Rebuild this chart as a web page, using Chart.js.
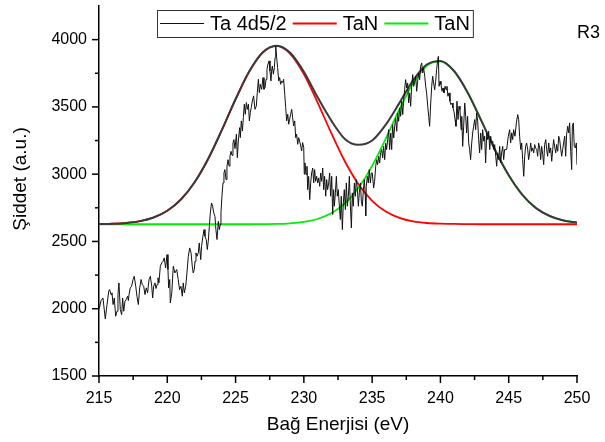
<!DOCTYPE html>
<html>
<head>
<meta charset="utf-8">
<title>Ta 4d5/2 - R3</title>
<script src="https://cdn.jsdelivr.net/npm/chart.js@4.4.1/dist/chart.umd.min.js"></script>
<style>
  html, body { margin: 0; padding: 0; background: #fff; }
</style>
</head>
<body>
<canvas id="xps" width="605" height="442"></canvas>
<script>
// measured spectrum (binding energy in eV, intensity in a.u.)
const energy = [
  215.02,215.15,215.29,215.46,215.59,215.71,215.78,215.88,215.95,216.03,216.12,216.22,216.32,216.39,216.46,216.56,216.66,216.73,216.81,216.90,
  216.99,217.10,217.15,217.20,217.29,217.39,217.49,217.58,217.69,217.78,217.88,217.98,218.08,218.17,218.27,218.37,218.46,218.56,218.66,218.76,
  218.86,218.93,219.00,219.10,219.17,219.25,219.32,219.39,219.49,219.59,219.69,219.78,219.88,219.98,
  220.05,220.10,220.18,220.22,220.33,220.44,220.56,220.69,220.80,220.90,221.00,221.10,221.17,221.25,221.35,221.44,221.54,221.64,221.74,221.83,
  221.90,221.98,222.03,222.10,222.18,222.27,222.34,222.45,222.51,222.61,222.69,222.76,222.85,222.93,223.00,223.08,223.15,223.24,223.32,223.40,
  223.49,223.56,223.64,223.74,223.81,223.88,223.93,224.00,224.08,224.15,224.22,224.30,224.37,224.45,224.52,224.59,224.67,224.74,224.81,224.88,224.96,
  225.06,225.13,225.20,225.30,225.35,225.42,225.50,225.57,225.64,225.71,225.79,225.86,225.94,226.01,226.08,226.15,226.23,226.32,226.42,226.52,
  226.59,226.67,226.74,226.81,226.91,227.01,227.08,227.16,227.23,227.30,227.37,227.45,227.52,227.59,227.64,227.69,227.77,227.84,227.89,227.94,
  228.01,228.08,228.16,228.23,228.30,228.38,228.45,228.52,228.60,228.67,228.74,228.82,228.89,228.96,229.03,229.11,229.18,229.25,229.33,229.40,
  229.47,229.55,229.62,229.69,229.77,229.84,229.91,229.99,230.03,
  230.08,230.16,230.23,230.28,230.35,230.43,230.50,230.57,230.65,230.72,230.79,230.86,230.94,231.01,231.08,231.16,231.23,231.30,231.38,231.45,
  231.52,231.60,231.67,231.74,231.82,231.89,231.96,232.04,232.11,232.18,232.23,232.31,232.38,232.45,232.52,232.60,232.67,232.74,232.82,232.89,
  232.96,233.04,233.11,233.18,233.26,233.33,233.40,233.48,233.55,233.62,233.70,233.77,233.84,233.92,233.99,234.06,234.14,234.21,234.28,234.36,
  234.43,234.50,234.53,234.57,234.65,234.72,234.79,234.87,234.94,
  235.01,235.11,235.18,235.26,235.33,235.40,235.48,235.55,235.62,235.70,235.77,235.84,235.92,235.99,236.06,236.14,236.21,236.28,236.36,236.43,
  236.50,236.58,236.65,236.72,236.80,236.87,236.94,237.02,237.09,237.16,237.24,237.31,237.38,237.45,237.53,237.60,237.67,237.75,237.82,237.89,
  237.97,238.04,238.11,238.19,238.26,238.33,238.41,238.48,238.55,238.63,238.70,238.77,238.85,238.92,238.99,239.07,239.14,239.21,239.29,239.36,
  239.43,239.50,239.58,239.65,239.72,239.80,239.85,239.90,239.97,
  240.04,240.12,240.19,240.26,240.34,240.41,240.48,240.55,240.63,240.70,240.77,240.85,240.92,240.99,241.07,241.14,241.21,241.29,241.36,241.43,
  241.51,241.56,241.63,241.70,241.78,241.85,241.92,241.99,242.07,242.14,242.21,242.29,242.36,242.43,242.51,242.58,242.65,242.73,242.80,242.87,
  242.95,243.02,243.09,243.17,243.24,243.31,243.39,243.46,243.53,243.61,243.68,243.75,243.83,243.90,243.97,244.05,244.12,244.19,244.27,244.34,
  244.41,244.48,244.56,244.63,244.70,
  244.85,244.97,245.07,245.14,245.22,245.29,245.36,245.46,245.56,245.66,245.73,245.80,245.88,245.95,246.02,246.10,246.17,246.24,246.31,246.39,
  246.46,246.53,246.61,246.68,246.75,246.83,246.90,246.97,247.05,247.12,247.19,247.27,247.34,247.41,247.49,247.56,247.63,247.71,247.78,247.85,
  247.93,248.00,248.07,248.15,248.22,248.29,248.36,248.44,248.51,248.59,248.66,248.73,248.80,248.88,248.95,249.02,249.10,249.17,249.24,249.32,
  249.39,249.46,249.54,249.61,249.66,249.73,249.80,249.88,249.95,250.00
];
const intensity = [
  2000,2060,2080,1924,2031,2130,2142,2105,2118,2031,2080,1944,1982,2105,2192,1994,1956,2080,1981,2055,
  2068,2093,2060,2105,2155,2167,2217,2241,2167,2093,2031,2155,2217,2179,2167,2105,2155,2118,2217,2241,
  2167,2080,2167,2192,2150,2179,2230,2192,2316,2340,2353,2378,2303,2402,
  2291,2155,2217,2043,2118,2316,2266,2291,2217,2142,2167,2093,2192,2118,2167,2266,2390,2452,2415,2316,
  2266,2291,2353,2415,2390,2415,2489,2365,2464,2539,2588,2539,2514,2440,2501,2613,2712,2786,2762,2712,
  2687,2588,2514,2650,2588,2625,2712,2836,2935,3009,3034,2960,3059,3108,3060,3133,3170,3140,3232,3257,3190,
  3297,3123,3247,3346,3272,3396,3321,3420,3520,3445,3532,3482,3520,3396,3458,3495,3544,3582,3482,3507,
  3606,3705,3606,3668,3631,3718,3631,3643,3705,3780,3817,3842,3767,3693,3767,3804,3743,3792,3866,3953,
  3866,3792,3693,3718,3668,3693,3681,3705,3594,3495,3396,3445,3371,3408,3445,3482,3420,3359,3396,3272,
  3297,3222,3272,3247,3210,3173,3235,3198,3000,
  3084,2997,3059,2885,2984,2811,2935,3009,3046,2935,3034,2947,2984,2935,2972,2910,3009,2947,3046,2885,
  2984,2836,2960,2885,2935,3009,2836,2984,2700,2885,2762,2861,2984,2836,2885,2762,2663,2836,2588,2786,
  2885,2737,2935,2762,2836,2984,2786,2600,2861,2762,2935,2836,2960,2885,2762,2861,2935,2799,2762,2885,
  2960,2836,2690,2910,2984,2935,3034,2935,3009,
  3009,2898,2947,3059,3108,3071,3133,3084,3158,3183,3121,3207,3108,3232,3183,3257,3331,3183,3306,3183,
  3368,3269,3356,3418,3319,3455,3393,3492,3430,3542,3443,3554,3628,3703,3641,3678,3529,3604,3505,3653,
  3740,3653,3678,3728,3616,3690,3752,3703,3802,3827,3752,3789,3728,3653,3604,3505,3430,3356,3529,3653,
  3728,3678,3628,3690,3777,3851,3876,3653,3690,
  3666,3616,3641,3604,3653,3628,3653,3579,3604,3542,3517,3529,3492,3468,3406,3356,3542,3406,3505,3480,
  3331,3430,3207,3356,3529,3430,3306,3430,3232,3183,3108,3232,3306,3356,3406,3331,3455,3393,3257,3158,
  3306,3183,3331,3245,3282,3084,3306,3257,3319,3183,3282,3232,3245,3183,3220,3133,3059,3158,3108,3207,
  3084,3158,3207,3108,3183,
  3183,3282,3331,3232,3307,3257,3331,3282,3381,3443,3406,3282,3183,3232,3108,2984,3133,3207,3232,3183,
  3108,3158,3232,3170,3195,3158,3220,3195,3183,3133,3232,3195,3108,3207,3145,3071,3220,3257,3183,3133,
  3232,3158,3195,3096,3183,3257,3207,3158,3220,3170,3282,3257,3195,3133,3183,3232,3282,3133,3294,3356,
  3307,3381,3170,3034,3356,3381,3207,3195,3232,3070
];

// peak fit components, sampled every 1 eV
const fitEnergy = [215,216,217,218,219,220,221,222,223,224,225,226,227,228,229,230,231,232,
                   233,234,235,236,237,238,239,240,241,242,243,244,245,246,247,248,249,250];
const fitTaN1 = [2629,2632,2638,2651,2678,2728,2812,2940,3115,3329,3557,3763,3905,3953,3895,3744,3534,3307,
                 3096,2925,2802,2722,2675,2649,2637,2632,2630,2629,2628,2628,2628,2628,2628,2628,2628,2628];
const fitTaN2 = [2628,2628,2628,2628,2628,2628,2628,2628,2628,2628,2628,2628,2629,2630,2635,2645,2667,2709,
                 2782,2899,3062,3265,3483,3677,3806,3838,3765,3605,3396,3180,2992,2847,2748,2689,2656,2640];
const fitSum  = [2629,2632,2638,2651,2678,2728,2812,2940,3115,3329,3557,3763,3906,3955,3902,3761,3573,3400,
                 3262,3218,3250,3368,3530,3698,3815,3842,3767,3606,3396,3180,2992,2847,2748,2689,2656,2640];

// axis ticks (majors are labelled, the rest are minor marks)
const xTicks = [215,217.5,220,222.5,225,227.5,230,232.5,235,237.5,240,242.5,245,247.5,250];
const yTicks = [1500,1750,2000,2250,2500,2750,3000,3250,3500,3750,4000];

const FONT = '"Liberation Sans", Arial, sans-serif';

const pts = (xs, ys) => xs.map((v, i) => ({x: v, y: ys[i]}));

// outward tick marks, y title, legend box and sample tag
const decorations = {
  id: 'decorations',
  afterDraw(chart) {
    const ctx = chart.ctx;
    const xs = chart.scales.x, ys = chart.scales.y;
    const a = chart.chartArea;
    ctx.save();
    ctx.strokeStyle = '#000';
    ctx.lineWidth = 1.5;
    xTicks.forEach(v => {
      const p = xs.getPixelForValue(v);
      const len = v % 5 === 0 ? 7 : 4;
      ctx.beginPath(); ctx.moveTo(p, a.bottom); ctx.lineTo(p, a.bottom + len); ctx.stroke();
    });
    yTicks.forEach(v => {
      const p = ys.getPixelForValue(v);
      const len = v % 500 === 0 ? 7 : 4;
      ctx.beginPath(); ctx.moveTo(a.left, p); ctx.lineTo(a.left - len, p); ctx.stroke();
    });

    ctx.fillStyle = '#000';
    ctx.font = '19px ' + FONT;
    ctx.save();
    ctx.translate(21, 179);
    ctx.rotate(-Math.PI / 2);
    ctx.textAlign = 'center';
    ctx.textBaseline = 'middle';
    ctx.fillText('Şiddet (a.u.)', 0, 0);
    ctx.restore();

    // legend
    const items = chart.data.datasets.filter(d => d.inLegend);
    const lineLen = 44, gap = 6, pad = 3;
    const left = 157, top = 10, h = 27, cy = top + h / 2;
    ctx.font = '20px ' + FONT;
    let w = pad * 2;
    items.forEach((d, i) => { w += lineLen + gap + ctx.measureText(d.label).width + (i ? gap : 0); });
    ctx.strokeStyle = '#333';
    ctx.lineWidth = 1;
    ctx.strokeRect(left + 0.5, top + 0.5, w, h);
    let cx = left + pad;
    ctx.textBaseline = 'middle';
    ctx.textAlign = 'left';
    items.forEach(d => {
      ctx.strokeStyle = d.borderColor;
      ctx.lineWidth = d.borderWidth;
      ctx.beginPath(); ctx.moveTo(cx, cy); ctx.lineTo(cx + lineLen, cy); ctx.stroke();
      cx += lineLen + gap;
      ctx.fillStyle = '#000';
      ctx.fillText(d.label, cx, cy + 1);
      cx += ctx.measureText(d.label).width + gap;
    });

    ctx.font = '18px ' + FONT;
    ctx.textBaseline = 'alphabetic';
    ctx.fillText('R3', 577, 38);
    ctx.restore();
  }
};

new Chart(document.getElementById('xps'), {
  type: 'line',
  data: {
    datasets: [
      { label: 'Ta 4d5/2', data: pts(energy, intensity), borderColor: '#111', borderWidth: 1,
        pointRadius: 0, tension: 0, inLegend: true },
      { label: 'Toplam', data: pts(fitEnergy, fitSum), borderColor: '#3a3a3a', borderWidth: 2,
        pointRadius: 0, cubicInterpolationMode: 'monotone' },
      { label: 'TaN', data: pts(fitEnergy, fitTaN1), borderColor: '#ff0000', borderWidth: 1.8,
        pointRadius: 0, cubicInterpolationMode: 'monotone', inLegend: true },
      { label: 'TaN', data: pts(fitEnergy, fitTaN2), borderColor: '#00ee00', borderWidth: 1.8,
        pointRadius: 0, cubicInterpolationMode: 'monotone', inLegend: true }
    ]
  },
  options: {
    responsive: false,
    animation: false,
    layout: { padding: { left: 0, top: 6, right: 28, bottom: 0 } },
    plugins: { legend: { display: false }, tooltip: { enabled: false } },
    scales: {
      x: {
        type: 'linear', min: 215, max: 250,
        afterBuildTicks: s => { s.ticks = xTicks.map(v => ({value: v})); },
        afterFit: s => { s.height = 66; s.paddingLeft = 0; s.paddingRight = 0; },
        grid: { display: false, drawTicks: false },
        border: { display: true, color: '#000', width: 1.5 },
        ticks: {
          autoSkip: false, maxRotation: 0, padding: 13, color: '#000',
          font: { family: FONT, size: 16 },
          callback: v => (v % 5 === 0 ? v : '')
        },
        title: { display: true, text: 'Bağ Enerjisi (eV)', color: '#000',
                 font: { family: FONT, size: 19 }, padding: { top: 0, bottom: 6 } }
      },
      y: {
        type: 'linear', min: 1500, max: 4250,
        afterBuildTicks: s => { s.ticks = yTicks.map(v => ({value: v})); },
        afterFit: s => { s.width = 99; s.paddingTop = 0; s.paddingBottom = 0; },
        grid: { display: false, drawTicks: false },
        border: { display: true, color: '#000', width: 1.5 },
        ticks: {
          autoSkip: false, padding: 12, color: '#000',
          font: { family: FONT, size: 16 },
          callback: v => (v % 500 === 0 ? v : '')
        }
      }
    }
  },
  plugins: [decorations]
});
</script>
</body>
</html>
